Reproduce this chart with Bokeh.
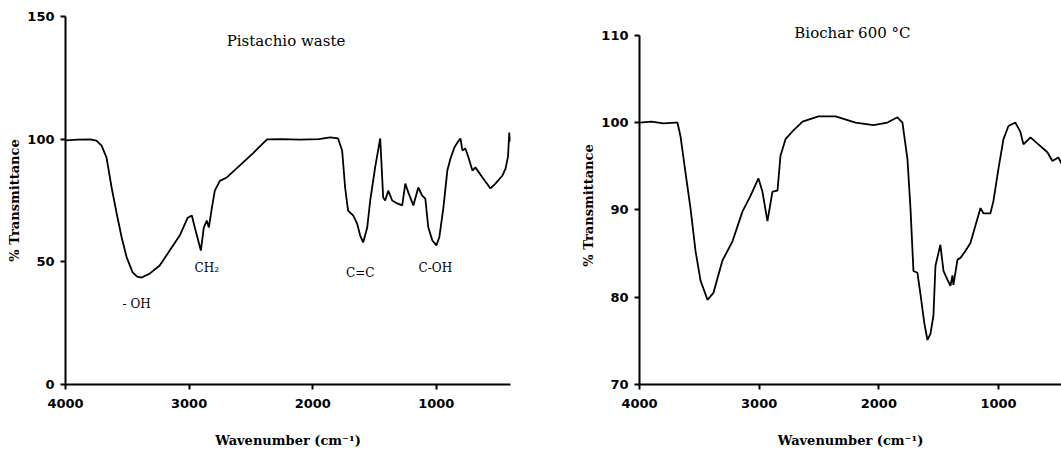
from bokeh.plotting import figure
from bokeh.layouts import row, column
from bokeh.models import ColumnDataSource, Range1d, FixedTicker, Label
from bokeh.core.properties import value
from bokeh.embed import file_html
from bokeh.resources import INLINE

# FTIR spectrum of raw pistachio waste
raw_wavenumber = [4000, 3900, 3800, 3750, 3708, 3668, 3627, 3586, 3546, 3505, 3457, 3420,
                  3384, 3319, 3238, 3157, 3076, 3011, 2978, 2954, 2905, 2881, 2857, 2840,
                  2816, 2792, 2751, 2695, 2589, 2484, 2370, 2250, 2103, 1950, 1859, 1795,
                  1762, 1738, 1714, 1673, 1641, 1616, 1592, 1559, 1535, 1495, 1454, 1430,
                  1414, 1389, 1357, 1316, 1276, 1251, 1227, 1186, 1146, 1114, 1089, 1065,
                  1032, 1000, 976, 943, 911, 886, 854, 830, 805, 789, 765, 740, 708, 684,
                  627, 562, 522, 465, 440, 420, 410, 400]
raw_transmittance = [99.5, 99.8, 99.9, 99.4, 97.4, 92.5, 80.3, 69.7, 60.0, 51.8, 45.7, 44.0,
                     43.6, 45.2, 48.5, 54.6, 60.7, 68.0, 68.9, 64.0, 54.6, 64.0, 66.8, 64.0,
                     72.0, 79.0, 83.0, 84.4, 89.3, 94.2, 99.9, 100.0, 99.8, 100.0, 100.7, 100.3,
                     95.4, 80.3, 70.9, 68.9, 65.6, 60.7, 57.9, 64.0, 75.0, 88.5, 100.3, 76.2,
                     75.0, 79.0, 75.0, 73.8, 73.0, 81.9, 78.3, 73.0, 80.3, 77.0, 75.8, 64.0,
                     58.7, 56.7, 60.0, 72.0, 87.2, 92.0, 96.6, 98.6, 100.3, 95.4, 96.2, 92.5, 87.2, 88.5,
                     84.4, 79.9, 81.9, 85.2, 88.0, 93.0, 102.7, 99.0]

# FTIR spectrum of biochar pyrolysed at 600 °C
char_wavenumber = [4000, 3900, 3800, 3700, 3683, 3657, 3616, 3574, 3532, 3490, 3432, 3382,
                   3307, 3223, 3140, 3073, 3006, 2973, 2931, 2889, 2847, 2822, 2780, 2722,
                   2638, 2505, 2362, 2195, 2045, 1928, 1845, 1803, 1761, 1736, 1711, 1678,
                   1652, 1620, 1594, 1569, 1544, 1527, 1486, 1460, 1427, 1402, 1385, 1377,
                   1343, 1318, 1277, 1235, 1193, 1151, 1126, 1068, 1043, 1001, 959, 917,
                   859, 817, 792, 733, 667, 592, 550, 500, 474]
char_transmittance = [100.0, 100.1, 99.9, 100.0, 100.0, 98.4, 94.3, 90.2, 85.3, 81.9, 79.7, 80.5,
                      84.2, 86.4, 89.8, 91.6, 93.6, 92.1, 88.7, 92.1, 92.2, 96.2, 98.1, 99.0,
                      100.1, 100.7, 100.7, 100.0, 99.7, 100.0, 100.6, 100.0, 95.8, 90.2, 83.0, 82.8,
                      80.3, 77.0, 75.1, 75.8, 77.9, 83.6, 86.0, 83.0, 82.0, 81.3, 82.5, 81.4,
                      84.3, 84.5, 85.3, 86.2, 88.2, 90.2, 89.6, 89.6, 91.0, 94.7, 98.1, 99.6,
                      100.0, 98.9, 97.5, 98.3, 97.5, 96.6, 95.6, 96.0, 95.3]

# band assignments on the raw spectrum
band_labels = ["- OH", "CH\u2082", "C=C", "C-OH"]
band_x = [3424, 2857, 1616, 1008]
band_y = [33.0, 47.3, 45.6, 47.3]

x_ticks = [1000, 2000, 3000, 4000]
raw_y_ticks = [0, 50, 100, 150]
char_y_ticks = [70, 80, 90, 100, 110]

raw_title = "Pistachio waste"
char_title = "Biochar 600 \u00b0C"
x_label = "Wavenumber (cm\u207b\u00b9)"
y_label = "% Transmittance"

SANS = "DejaVu Sans"
SERIF = "DejaVu Serif"


def style_axes(p, yticks):
    p.xaxis.ticker = FixedTicker(ticks=x_ticks)
    p.yaxis.ticker = FixedTicker(ticks=yticks)
    p.yaxis.bounds = (yticks[0], yticks[-1])
    for ax in (p.xaxis[0], p.yaxis[0]):
        ax.axis_line_width = 2
        ax.axis_line_color = "black"
        ax.major_tick_line_width = 2
        ax.major_tick_line_color = "black"
        ax.major_tick_out = 5
        ax.major_tick_in = 0
        ax.minor_tick_line_color = None
        ax.major_label_text_font = SANS
        ax.major_label_text_font_style = "bold"
        ax.major_label_text_font_size = "13px"
        ax.major_label_text_color = "black"
        ax.axis_label_text_font = SERIF
        ax.axis_label_text_font_style = "bold"
        ax.axis_label_text_font_size = "13px"
        ax.axis_label_text_color = "black"
    p.xaxis.axis_label = x_label
    p.yaxis.axis_label = y_label
    p.xaxis.major_label_standoff = 9
    p.xaxis.axis_label_standoff = 22
    p.yaxis.major_label_standoff = 6
    p.yaxis.axis_label_standoff = 2
    p.xgrid.grid_line_color = None
    p.ygrid.grid_line_color = None
    p.outline_line_color = None


left = figure(width=560, height=450, output_backend="svg", toolbar_location=None,
              x_range=Range1d(4000, 400), y_range=Range1d(0, 150),
              min_border_left=65, min_border_right=50, min_border_top=16, min_border_bottom=66)
style_axes(left, raw_y_ticks)
left.line(raw_wavenumber, raw_transmittance, line_color="black", line_width=1.8)
bands = ColumnDataSource(dict(x=band_x, y=band_y, t=band_labels))
left.text("x", "y", text="t", source=bands, text_font=value(SERIF), text_font_size="12px",
          text_align="center", text_baseline="middle", text_color="black")
left.add_layout(Label(x=2216, y=140.2, text=raw_title, text_font=SERIF, text_font_size="15px",
                      text_align="center", text_baseline="middle", text_color="black"))

# the frame reaches a little above 110 so the heading sits inside it;
# the axis line itself stops at 110
right = figure(width=501, height=450, output_backend="svg", toolbar_location=None,
               x_range=Range1d(4000, 474), y_range=Range1d(70, 111),
               min_border_left=79, min_border_right=0, min_border_top=26, min_border_bottom=62)
style_axes(right, char_y_ticks)
right.line(char_wavenumber, char_transmittance, line_color="black", line_width=1.8)
right.add_layout(Label(x=2221, y=110.2, text=char_title, text_font=SERIF, text_font_size="15px",
                       text_align="center", text_baseline="middle", text_color="black"))

# each panel keeps its own borders
layout = row(column(left), column(right))
open("out.html", "w").write(file_html(layout, INLINE))
